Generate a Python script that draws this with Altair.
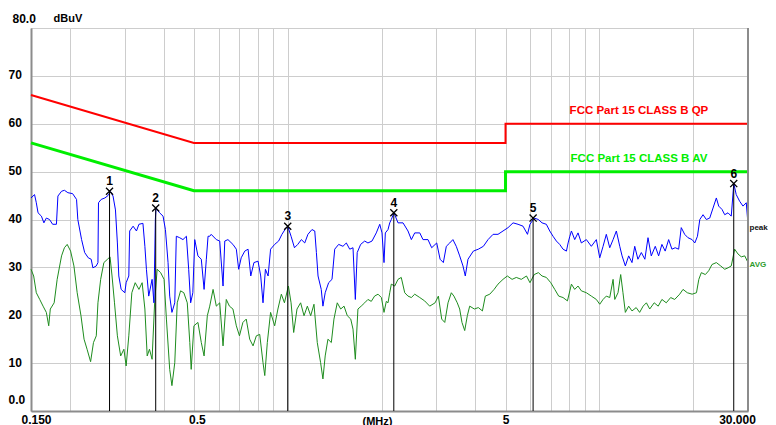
import altair as alt
import pandas as pd

FONT = "Liberation Sans"

# ---- peak trace (MHz, dBuV) ----
peak_freq = [
    0.150, 0.154, 0.156, 0.158, 0.162, 0.165, 0.168, 0.172, 0.176, 0.181,
    0.183, 0.188, 0.192, 0.197, 0.204, 0.210, 0.212, 0.218, 0.223, 0.229,
    0.234, 0.237, 0.243, 0.246, 0.247, 0.252, 0.259, 0.265, 0.270, 0.275,
    0.280, 0.284, 0.287, 0.292, 0.300, 0.303, 0.309, 0.311, 0.319, 0.327,
    0.333, 0.343, 0.348, 0.352, 0.358, 0.367, 0.372, 0.376, 0.378, 0.388,
    0.398, 0.405, 0.413, 0.418, 0.425, 0.434, 0.439, 0.450, 0.461, 0.473,
    0.481, 0.488, 0.496, 0.503, 0.515, 0.528, 0.539, 0.548, 0.555, 0.562,
    0.568, 0.590, 0.605, 0.620, 0.628, 0.643, 0.667, 0.684, 0.696, 0.709,
    0.728, 0.746, 0.761, 0.779, 0.803, 0.819, 0.833, 0.848, 0.865, 0.881,
    0.908, 0.935, 0.958, 0.980, 1.000, 1.025, 1.051, 1.077, 1.106, 1.134,
    1.161, 1.196, 1.221, 1.236, 1.251, 1.281, 1.297, 1.319, 1.353, 1.387,
    1.415, 1.457, 1.504, 1.542, 1.581, 1.620, 1.648, 1.671, 1.714, 1.766,
    1.809, 1.864, 1.924, 1.974, 2.007, 2.037, 2.057, 2.098, 2.125, 2.150,
    2.193, 2.259, 2.344, 2.432, 2.493, 2.556, 2.653, 2.717, 2.819, 2.897,
    3.007, 3.083, 3.158, 3.228, 3.311, 3.389, 3.474, 3.563, 3.651, 3.714,
    3.789, 3.941, 4.090, 4.245, 4.394, 4.560, 4.729, 4.908, 5.094, 5.286,
    5.484, 5.690, 5.881, 5.990, 6.180, 6.374, 6.548, 6.760, 6.933, 7.104,
    7.280, 7.461, 7.648, 7.842, 7.940, 8.042, 8.137, 8.337, 8.544, 8.756,
    9.087, 9.426, 9.781, 10.03, 10.28, 10.53, 10.80, 11.07, 11.34, 11.63,
    11.83, 12.12, 12.42, 12.73, 12.99, 13.30, 13.64, 14.00, 14.33, 14.68,
    15.12, 15.50, 15.88, 16.27, 16.69, 17.10, 17.52, 17.97, 18.32, 18.79,
    19.25, 19.85, 20.25, 20.65, 21.01, 21.52, 22.05, 22.61, 23.17, 23.74,
    24.16, 24.76, 25.26, 25.88, 26.51, 27.01, 27.50, 28.21, 28.91, 29.62,
    30.00,
]
peak_db = [
    44.5, 45.2, 43.5, 41.4, 40.7, 39.3, 40.3, 40.0, 39.0, 39.0,
    44.9, 45.9, 46.1, 45.6, 45.4, 44.2, 40.0, 35.8, 33.1, 32.0,
    31.7, 29.9, 30.3, 31.0, 43.5, 44.2, 44.5, 45.0, 45.8, 44.9,
    42.0, 35.1, 28.2, 25.4, 24.7, 26.8, 28.2, 37.6, 38.6, 37.6,
    39.0, 39.2, 34.4, 29.6, 24.0, 27.5, 22.6, 40.0, 42.4, 41.4,
    40.7, 37.9, 31.0, 24.0, 20.6, 22.6, 36.5, 36.2, 35.8, 36.5,
    29.6, 22.6, 24.7, 35.8, 32.4, 31.7, 25.4, 31.7, 36.5, 36.5,
    36.9, 35.8, 35.5, 26.1, 35.5, 35.8, 34.8, 33.8, 29.6, 32.0,
    33.4, 33.8, 28.2, 31.0, 31.3, 28.2, 22.6, 29.6, 28.2, 33.8,
    34.8, 35.5, 36.9, 37.9, 38.6, 36.5, 34.1, 34.8, 35.8, 35.1,
    36.9, 37.9, 37.6, 33.1, 28.2, 25.4, 21.9, 24.7, 26.8, 27.5,
    33.8, 34.8, 34.4, 35.1, 33.8, 34.1, 23.3, 33.1, 34.8, 35.5,
    35.1, 35.5, 37.2, 39.0, 37.2, 31.0, 37.2, 37.9, 39.3, 40.0,
    41.4, 39.3, 39.3, 37.6, 35.8, 37.2, 37.2, 35.8, 35.8, 34.1,
    35.1, 31.7, 31.0, 34.4, 35.1, 35.8, 34.4, 32.4, 30.3, 28.2,
    31.7, 33.4, 33.8, 34.4, 35.8, 36.9, 36.9, 37.6, 38.3, 39.3,
    39.0, 38.6, 36.9, 39.0, 40.3, 40.0, 39.3, 39.0, 37.6, 36.5,
    35.5, 34.8, 33.8, 33.4, 35.1, 36.5, 37.6, 35.8, 37.2, 35.1,
    35.8, 34.4, 35.8, 32.0, 34.4, 36.9, 34.1, 35.8, 37.6, 34.4,
    32.4, 30.3, 32.4, 31.0, 34.4, 31.7, 33.1, 31.7, 36.2, 32.4,
    34.4, 32.4, 34.8, 33.4, 35.8, 33.8, 34.1, 33.8, 38.3, 36.9,
    36.2, 35.8, 35.1, 36.5, 40.0, 41.0, 40.0, 40.3, 42.4, 44.5,
    42.8, 42.1, 41.0, 41.4, 40.7, 47.5, 45.2, 43.8, 42.8, 43.5,
    39.0,
]

# ---- average trace ----
avg_freq = [
    0.150, 0.153, 0.156, 0.160, 0.164, 0.168, 0.171, 0.173, 0.178, 0.182,
    0.188, 0.192, 0.196, 0.201, 0.206, 0.211, 0.217, 0.222, 0.227, 0.233,
    0.238, 0.243, 0.246, 0.251, 0.257, 0.264, 0.269, 0.273, 0.278, 0.284,
    0.291, 0.298, 0.303, 0.309, 0.316, 0.324, 0.333, 0.341, 0.348, 0.354,
    0.360, 0.367, 0.374, 0.381, 0.391, 0.401, 0.408, 0.418, 0.425, 0.434,
    0.442, 0.453, 0.464, 0.476, 0.485, 0.490, 0.500, 0.515, 0.528, 0.539,
    0.552, 0.562, 0.576, 0.590, 0.605, 0.620, 0.635, 0.650, 0.667, 0.684,
    0.700, 0.718, 0.736, 0.755, 0.774, 0.793, 0.813, 0.833, 0.844, 0.860,
    0.881, 0.908, 0.930, 0.954, 0.976, 1.005, 1.025, 1.045, 1.071, 1.100,
    1.128, 1.156, 1.185, 1.214, 1.244, 1.275, 1.297, 1.319, 1.346, 1.380,
    1.407, 1.442, 1.479, 1.516, 1.553, 1.593, 1.620, 1.648, 1.680, 1.721,
    1.766, 1.809, 1.854, 1.900, 1.949, 1.998, 2.037, 2.072, 2.098, 2.125,
    2.150, 2.205, 2.259, 2.314, 2.374, 2.432, 2.493, 2.556, 2.653, 2.750,
    2.855, 2.971, 3.044, 3.120, 3.191, 3.269, 3.350, 3.415, 3.500, 3.563,
    3.624, 3.698, 3.770, 3.837, 3.971, 4.090, 4.215, 4.307, 4.451, 4.595,
    4.729, 4.908, 5.067, 5.248, 5.415, 5.618, 5.838, 5.990, 6.180, 6.374,
    6.548, 6.760, 6.985, 7.194, 7.406, 7.648, 7.900, 8.042, 8.137, 8.337,
    8.544, 8.756, 9.087, 9.426, 9.781, 10.03, 10.28, 10.53, 10.80, 11.07,
    11.21, 11.48, 11.71, 11.91, 12.12, 12.42, 12.73, 13.13, 13.47, 13.82,
    14.16, 14.51, 15.00, 15.45, 15.88, 16.40, 16.94, 17.45, 18.11, 18.56,
    19.16, 19.85, 20.50, 20.86, 21.25, 21.89, 22.44, 22.99, 23.74, 24.52,
    25.26, 25.88, 26.51, 27.18, 27.86, 28.55, 29.29, 30.00,
]
avg_db = [
    29.6, 28.2, 24.7, 23.3, 21.9, 20.6, 17.8, 21.3, 22.6, 27.5,
    32.4, 34.1, 34.8, 33.4, 30.3, 24.7, 19.9, 15.0, 12.9, 10.3,
    14.3, 15.7, 22.6, 27.5, 31.0, 31.7, 32.2, 28.2, 22.6, 15.7,
    11.5, 12.9, 9.4, 15.7, 24.7, 26.8, 25.4, 26.8, 21.3, 11.5,
    12.9, 10.8, 22.6, 29.6, 28.9, 27.5, 19.2, 8.7, 5.3, 10.1,
    22.6, 25.1, 24.7, 22.6, 14.3, 8.7, 17.8, 18.5, 14.3, 11.5,
    19.9, 21.9, 25.4, 21.9, 22.6, 13.6, 23.3, 21.9, 21.3, 17.8,
    15.7, 18.5, 19.2, 15.0, 13.6, 15.7, 16.0, 10.1, 7.4, 14.3,
    20.6, 17.8, 21.3, 24.4, 22.6, 26.1, 22.6, 16.4, 21.3, 22.6,
    19.9, 21.9, 19.9, 22.3, 14.3, 10.1, 6.7, 11.5, 15.0, 14.3,
    19.2, 22.6, 21.3, 21.9, 19.9, 19.2, 17.1, 10.8, 21.3, 21.9,
    22.6, 23.3, 22.9, 24.0, 24.4, 23.7, 20.6, 22.9, 22.6, 24.7,
    26.5, 26.1, 27.5, 27.9, 24.7, 24.0, 23.7, 24.4, 23.7, 23.0,
    21.9, 22.6, 24.0, 19.2, 18.5, 22.6, 24.7, 24.0, 22.6, 21.3,
    18.5, 16.8, 19.9, 21.9, 21.3, 21.6, 20.9, 24.0, 24.4, 25.4,
    26.5, 27.5, 28.2, 27.5, 27.9, 27.5, 28.2, 26.8, 28.5, 28.9,
    28.2, 27.9, 26.8, 25.4, 24.0, 23.7, 23.0, 25.1, 26.5, 25.4,
    26.1, 25.1, 24.7, 24.0, 23.3, 22.3, 23.3, 24.0, 23.7, 27.5,
    23.3, 24.7, 28.5, 24.7, 20.6, 21.9, 20.9, 21.6, 20.6, 21.9,
    22.6, 21.3, 22.6, 21.9, 23.3, 22.6, 23.7, 23.3, 24.4, 25.4,
    24.7, 24.4, 24.7, 27.5, 28.9, 28.5, 29.3, 30.6, 31.0, 30.3,
    29.6, 29.9, 30.3, 33.8, 32.8, 32.2, 32.4, 31.0,
]

# ---- FCC Part 15 class B limits ----
limit_freq = [0.15, 0.5, 5, 5, 30]
qp_limit_db = [66, 56, 56, 60, 60]
av_limit_db = [56, 46, 46, 50, 50]

# ---- markers ----
marker_no = ["1", "2", "3", "4", "5", "6"]
marker_freq = [0.268, 0.377, 1.00, 2.19, 6.13, 27.0]
marker_db = [45.9, 42.4, 38.6, 41.4, 40.3, 47.5]

# ---- texts ----
limit_labels = ["FCC Part 15 CLASS B QP", "FCC Part 15 CLASS B AV"]
limit_label_freq = [13.4, 13.4]
limit_label_db = [62.7, 52.7]
trace_labels = ["peak", "AVG"]
trace_label_db = [38.3, 30.6]

grid_values = [0.15, 0.2, 0.3, 0.4, 0.5, 0.6, 0.7, 0.8, 0.9, 1, 2, 3, 4, 5,
               6, 7, 8, 9, 10, 20, 30]

C_PEAK = "#0000ff"
C_AVG = "#1e8c1e"
C_QP = "#ff0000"
C_AV = "#00ee00"

x_scale = alt.Scale(type="log", domain=[0.15, 30], nice=False)
y_scale = alt.Scale(domain=[0, 80], nice=False, zero=False)

x_axis = alt.Axis(
    values=grid_values,
    labelExpr=("datum.value == 0.15 ? '0.150' : datum.value == 0.5 ? '0.5' : "
               "datum.value == 5 ? '5' : datum.value == 30 ? '30.000' : ''"),
    ticks=False, tickSize=0,
    grid=True, gridColor="#cdcdcd", gridWidth=1,
    domainColor="#8c8c8c", domainWidth=2,
    labelFont=FONT, labelFontSize=12, labelFontWeight="bold", labelColor="black",
    labelBaseline="top", labelPadding=3,
    labelOffset={"condition": [{"test": "datum.value == 0.15", "value": 5},
                               {"test": "datum.value == 0.5", "value": 3},
                               {"test": "datum.value == 30", "value": -11}],
                 "value": 0},
    labelOverlap=False, labelBound=False, labelFlush=False,
    title="(MHz)", titleFont=FONT, titleFontSize=11, titleFontWeight="bold",
    titleColor="black", titleX=346, titleY=10, titleBaseline="middle",
    titleAlign="center",
)

y_axis = alt.Axis(
    values=[0, 10, 20, 30, 40, 50, 60, 70, 80],
    labelExpr="datum.value == 0 ? '0.0' : datum.value == 80 ? '80.0' : '' + datum.value",
    ticks=False, tickSize=0,
    grid=True, gridColor="#cdcdcd", gridWidth=1,
    domainColor="#8c8c8c", domainWidth=2,
    labelFont=FONT, labelFontSize=12, labelFontWeight="bold", labelColor="black",
    labelAlign="left", labelBaseline="middle",
    labelPadding={"condition": [{"test": "datum.value == 80", "value": 19}],
                  "value": 23},
    labelOffset={"condition": [{"test": "datum.value == 80", "value": -10},
                               {"test": "datum.value == 0", "value": -12}],
                 "value": -1},
    labelOverlap=False, labelBound=False, labelFlush=False,
    title="dBuV", titleFont=FONT, titleFontSize=11, titleFontWeight="bold",
    titleColor="black", titleAngle=0, titleAlign="left", titleBaseline="middle",
    titleX=22, titleY=-10,
)

X = alt.X("f:Q", scale=x_scale, axis=x_axis)
Y = alt.Y("db:Q", scale=y_scale, axis=y_axis)

df_peak = pd.DataFrame({"f": peak_freq, "db": peak_db, "i": range(len(peak_freq))})
df_avg = pd.DataFrame({"f": avg_freq, "db": avg_db, "i": range(len(avg_freq))})
df_qp = pd.DataFrame({"f": limit_freq, "db": qp_limit_db, "i": range(len(limit_freq))})
df_av = pd.DataFrame({"f": limit_freq, "db": av_limit_db, "i": range(len(limit_freq))})
df_mk = pd.DataFrame({"f": marker_freq, "db": marker_db, "n": marker_no})
df_lim_txt = pd.DataFrame({"f": limit_label_freq, "db": limit_label_db,
                           "t": limit_labels, "c": [C_QP, C_AV]})
df_tr_txt = pd.DataFrame({"f": [30, 30], "db": trace_label_db, "t": trace_labels,
                          "c": ["#111111", "#2e9b2e"]})
df_edge = pd.DataFrame({"f": [30], "db": [0], "db2": [80]})

edge = alt.Chart(df_edge).mark_rule(color="#8c8c8c", strokeWidth=2).encode(
    x=X, y=Y, y2="db2:Q")

qp = alt.Chart(df_qp).mark_line(color=C_QP, strokeWidth=2).encode(x=X, y=Y, order="i:Q")
av = alt.Chart(df_av).mark_line(color=C_AV, strokeWidth=3).encode(x=X, y=Y, order="i:Q")

avg = alt.Chart(df_avg).mark_line(color=C_AVG, strokeWidth=1).encode(x=X, y=Y, order="i:Q")
peak = alt.Chart(df_peak).mark_line(color=C_PEAK, strokeWidth=1).encode(x=X, y=Y, order="i:Q")

mk_rule = alt.Chart(df_mk).mark_rule(color="black", strokeWidth=1).encode(
    x=X, y=Y, y2=alt.datum(0))
mk_x = alt.Chart(df_mk).mark_point(
    shape="M-1,-1L1,1M-1,1L1,-1", size=50, color="black", strokeWidth=1.3,
    filled=False, opacity=1).encode(x=X, y=Y)
mk_n = alt.Chart(df_mk).mark_text(
    font=FONT, fontSize=12, fontWeight="bold", color="black", dy=-10,
    baseline="middle").encode(x=X, y=Y, text="n:N")

lim_txt = alt.Chart(df_lim_txt).mark_text(
    font=FONT, fontSize=11.5, fontWeight="bold", align="center", baseline="middle"
).encode(x=X, y=Y, text="t:N", color=alt.Color("c:N", scale=None))

tr_txt = alt.Chart(df_tr_txt).mark_text(
    font=FONT, fontSize=8, fontWeight="bold", align="left", baseline="middle", dx=1.5
).encode(x=X, y=Y, text="t:N", color=alt.Color("c:N", scale=None))

chart = alt.layer(
    qp, av, avg, peak, edge, mk_rule, mk_x, mk_n, lim_txt, tr_txt
).properties(
    width=717, height=383,
    autosize=alt.AutoSizeParams(type="none"),
    padding={"left": 23, "top": 20, "right": 20, "bottom": 22},
    background="white",
).configure_view(stroke="#b4b4b4", strokeWidth=1)

chart.save("out.html", embed_options={"renderer": "svg", "actions": False})
